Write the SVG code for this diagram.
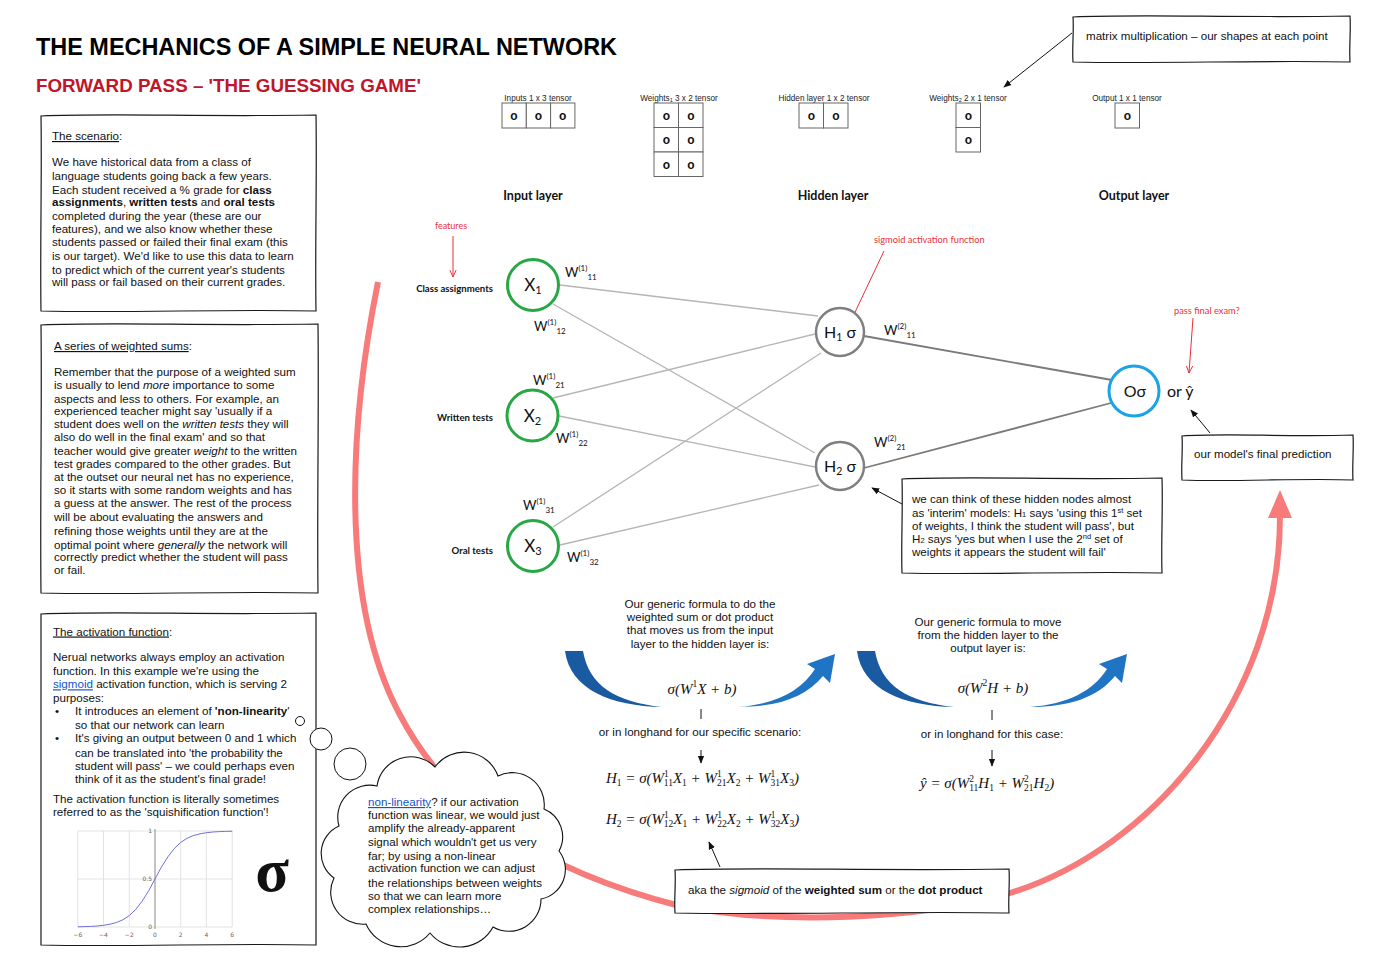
<svg xmlns="http://www.w3.org/2000/svg" width="1376" height="968" viewBox="0 0 1376 968">
<defs>
<style>
.t{font-family:"Liberation Sans",Arial,sans-serif;font-size:11.6px;fill:#111}
.b{font-weight:bold}
.i{font-style:italic}
.u{text-decoration:underline}
.lnk{fill:#1155cc;text-decoration:underline}
.box{fill:#fff;stroke:#1a1a1a;stroke-width:1.2}
.cal{font-family:Lato,"Liberation Sans",sans-serif;fill:#111}
.red{fill:#e8303a}
.math{font-family:"Liberation Serif","DejaVu Serif",serif;font-style:italic;font-size:15px;fill:#111}
.d{font-style:normal;font-size:9.5px}
.cell{fill:#fff;stroke:#666;stroke-width:1}
.o{font-family:"Liberation Sans",sans-serif;font-weight:bold;font-size:12px;text-anchor:middle;fill:#111}
.tl{font-family:"Liberation Sans",sans-serif;font-size:8.2px;text-anchor:middle;fill:#222}
.w1{stroke:#b5b5b5;stroke-width:1.3;fill:none}
.w2{stroke:#7a7a7a;stroke-width:1.8;fill:none}
.arr{stroke:#111;stroke-width:1;fill:none;marker-end:url(#ah)}
.rarr{stroke:#e8303a;stroke-width:1;fill:none;marker-end:url(#rh)}
.grid{stroke:#dcdcdc;stroke-width:0.8}
.ax{font-family:"DejaVu Sans",sans-serif;font-size:6px;fill:#666}
</style>
<marker id="ah" viewBox="0 0 10 10" refX="9" refY="5" markerWidth="8" markerHeight="8" orient="auto"><path d="M0,1 L10,5 L0,9 Z" fill="#111"/></marker>
<marker id="rh" viewBox="0 0 10 10" refX="9" refY="5" markerWidth="8" markerHeight="8" orient="auto"><path d="M0,1 L9,5 L0,9" fill="none" stroke="#e8303a" stroke-width="1.2"/></marker>
<g id="swoosh">
<path d="M565,651 C570,690 612,706 662,707 C616,702 589,686 583,651 Z" fill="#1a5aa0"/>
<path d="M738,707 C776,704 801,691 815,669 L807,664 L835,654 L830,683 L823,676 C806,697 778,707 738,707 Z" fill="#1f74c4"/>
</g>
</defs>
<rect width="1376" height="968" fill="#fff"/>

<!-- big red curve -->
<path d="M378,282 C350,420 338,600 400,715 C450,810 540,870 680,906 C780,925 920,920 1010,893 C1150,850 1280,700 1280,516" fill="none" stroke="#f77b7b" stroke-width="6"/>
<polygon points="1280,490 1268,518 1292,518" fill="#f77b7b"/>

<!-- titles -->
<text x="36" y="55" font-family="Liberation Sans,Arial,sans-serif" font-weight="bold" font-size="24" textLength="581" lengthAdjust="spacingAndGlyphs" fill="#000">THE MECHANICS OF A SIMPLE NEURAL NETWORK</text>
<text x="36" y="92" font-family="Liberation Sans,Arial,sans-serif" font-weight="bold" font-size="18.5" textLength="385" lengthAdjust="spacingAndGlyphs" fill="#c0152a">FORWARD PASS – 'THE GUESSING GAME'</text>

<!-- scenario box -->
<g id="scenario">
<path class="box" d="M41,116 C110,113 206,117 316,115 C317,174 315,252 316,311 C233,309 124,313 41,311 C40,252 42,174 41,116 Z"/>
<text class="t" x="52" y="140"><tspan class="u">The scenario</tspan>:</text>
<text class="t" x="52" y="165.7">We have historical data from a class of</text>
<text class="t" x="52" y="179.7">language students going back a few years.</text>
<text class="t" x="52" y="194">Each student received a % grade for <tspan class="b">class</tspan></text>
<text class="t" x="52" y="206.3"><tspan class="b">assignments</tspan>, <tspan class="b">written tests</tspan> and <tspan class="b">oral tests</tspan></text>
<text class="t" x="52" y="220">completed during the year (these are our</text>
<text class="t" x="52" y="233.3">features), and we also know whether these</text>
<text class="t" x="52" y="245.7">students passed or failed their final exam (this</text>
<text class="t" x="52" y="259.7">is our target). We'd like to use this data to learn</text>
<text class="t" x="52" y="273.7">to predict which of the current year's students</text>
<text class="t" x="52" y="286">will pass or fail based on their current grades.</text>
</g>

<!-- weighted sums box -->
<g id="weighted-sums">
<path class="box" d="M41,325 C110,322 207,326 318,324 C319,405 317,512 318,593 C235,591 124,595 41,593 C40,512 42,405 41,325 Z"/>
<text class="t" x="54" y="350"><tspan class="u">A series of weighted sums</tspan>:</text>
<text class="t" x="54" y="375.7">Remember that the purpose of a weighted sum</text>
<text class="t" x="54" y="389.3">is usually to lend <tspan class="i">more</tspan> importance to some</text>
<text class="t" x="54" y="403">aspects and less to others. For example, an</text>
<text class="t" x="54" y="415">experienced teacher might say 'usually if a</text>
<text class="t" x="54" y="428">student does well on the <tspan class="i">written tests</tspan> they will</text>
<text class="t" x="54" y="441.3">also do well in the final exam' and so that</text>
<text class="t" x="54" y="455">teacher would give greater <tspan class="i">weight</tspan> to the written</text>
<text class="t" x="54" y="468">test grades compared to the other grades. But</text>
<text class="t" x="54" y="480.7">at the outset our neural net has no experience,</text>
<text class="t" x="54" y="494">so it starts with some random weights and has</text>
<text class="t" x="54" y="507.3">a guess at the answer. The rest of the process</text>
<text class="t" x="54" y="521.3">will be about evaluating the answers and</text>
<text class="t" x="54" y="534.7">refining those weights until they are at the</text>
<text class="t" x="54" y="548.7">optimal point where <tspan class="i">generally</tspan> the network will</text>
<text class="t" x="54" y="561.3">correctly predict whether the student will pass</text>
<text class="t" x="54" y="574">or fail.</text>
</g>

<!-- activation box -->
<g id="activation">
<path class="box" d="M41,614 C110,611 206,615 316,613 C317,713 315,845 316,945 C233,943 124,947 41,945 C40,845 42,713 41,614 Z"/>
<text class="t" x="53" y="635.5"><tspan class="u">The activation function</tspan>:</text>
<text class="t" x="53" y="660.7">Nerual networks always employ an activation</text>
<text class="t" x="53" y="675">function. In this example we're using the</text>
<text class="t" x="53" y="688.3"><tspan class="lnk">sigmoid</tspan> activation function, which is serving 2</text>
<text class="t" x="53" y="701.7">purposes:</text>
<text class="t" x="55" y="715">•</text>
<text class="t" x="75" y="715">It introduces an element of <tspan class="b">'non-linearity</tspan>'</text>
<text class="t" x="75" y="729">so that our network can learn</text>
<text class="t" x="55" y="742.3">•</text>
<text class="t" x="75" y="742.3">It's giving an output between 0 and 1 which</text>
<text class="t" x="75" y="756.7">can be translated into 'the probability the</text>
<text class="t" x="75" y="769.7">student will pass' – we could perhaps even</text>
<text class="t" x="75" y="783">think of it as the student's final grade!</text>
<text class="t" x="53" y="803">The activation function is literally sometimes</text>
<text class="t" x="53" y="816.3">referred to as the 'squishification function'!</text>
<!-- sigmoid chart -->
<g>
<line class="grid" x1="77.8" y1="831" x2="77.8" y2="927"/>
<line class="grid" x1="103.5" y1="831" x2="103.5" y2="927"/>
<line class="grid" x1="129.3" y1="831" x2="129.3" y2="927"/>
<line class="grid" x1="180.7" y1="831" x2="180.7" y2="927"/>
<line class="grid" x1="206.4" y1="831" x2="206.4" y2="927"/>
<line class="grid" x1="232.2" y1="831" x2="232.2" y2="927"/>
<line class="grid" x1="77.8" y1="831" x2="232.2" y2="831"/>
<line class="grid" x1="77.8" y1="879" x2="232.2" y2="879"/>
<line class="grid" x1="77.8" y1="927" x2="232.2" y2="927"/>
<line x1="155" y1="829" x2="155" y2="929" stroke="#888" stroke-width="1"/>
<polyline points="77.8,926.8 84.2,926.6 90.7,926.4 97.1,926 103.6,925.3 110,924.2 116.4,922.5 122.9,919.8 129.3,915.6 135.7,909.5 142.1,901.2 148.6,890.9 155,879 161.4,867.1 167.9,856.8 174.3,848.5 180.7,842.4 187.2,838.2 193.6,835.5 200,833.8 206.4,832.7 212.9,832 219.3,831.6 225.7,831.4 232.2,831.2" fill="none" stroke="#7070dd" stroke-width="1"/>
<text class="ax" x="152" y="833" text-anchor="end">1</text>
<text class="ax" x="152" y="881" text-anchor="end">0.5</text>
<text class="ax" x="152" y="929" text-anchor="end">0</text>
<text class="ax" x="77.8" y="937" text-anchor="middle">−6</text>
<text class="ax" x="103.5" y="937" text-anchor="middle">−4</text>
<text class="ax" x="129.3" y="937" text-anchor="middle">−2</text>
<text class="ax" x="155" y="937" text-anchor="middle">0</text>
<text class="ax" x="180.7" y="937" text-anchor="middle">2</text>
<text class="ax" x="206.4" y="937" text-anchor="middle">4</text>
<text class="ax" x="232.2" y="937" text-anchor="middle">6</text>
</g>
<text x="272" y="891" font-family="Liberation Serif,serif" font-weight="bold" font-size="62" text-anchor="middle" fill="#111">σ</text>
</g>

<!-- thought bubble -->
<g id="thought">
<circle cx="300" cy="721" r="4.5" fill="#fff" stroke="#111" stroke-width="1"/>
<circle cx="321" cy="739" r="11" fill="#fff" stroke="#111" stroke-width="1"/>
<circle cx="350" cy="764" r="16" fill="#fff" stroke="#111" stroke-width="1"/>
<path d="M559,851 A30,30 0 0 1 541,899 A32,32 0 0 1 493,927 A38,38 0 0 1 430,933 A38,38 0 0 1 366,924 A32,32 0 0 1 334,878 A30,30 0 0 1 339,826 A32,32 0 0 1 377,786 A34,34 0 0 1 435,767 A36,36 0 0 1 498,776 A32,32 0 0 1 544,809 A30,30 0 0 1 559,851 Z" fill="#fff" stroke="#111" stroke-width="1.1"/>
<text class="t" x="368" y="806"><tspan class="lnk">non-linearity</tspan>? if our activation</text>
<text class="t" x="368" y="818.5">function was linear, we would just</text>
<text class="t" x="368" y="832">amplify the already-apparent</text>
<text class="t" x="368" y="846">signal which wouldn't get us very</text>
<text class="t" x="368" y="860">far; by using a non-linear</text>
<text class="t" x="368" y="872">activation function we can adjust</text>
<text class="t" x="368" y="886.5">the relationships between weights</text>
<text class="t" x="368" y="900">so that we can learn more</text>
<text class="t" x="368" y="912.5">complex relationships…</text>
</g>

<!-- tensors -->
<g id="tensors">
<text class="tl" x="538" y="100.5">Inputs 1 x 3 tensor</text>
<rect class="cell" x="502" y="103" width="24.3" height="25"/>
<rect class="cell" x="526.3" y="103" width="24.3" height="25"/>
<rect class="cell" x="550.6" y="103" width="24.3" height="25"/>
<text class="o" x="514" y="120">o</text><text class="o" x="538.4" y="120">o</text><text class="o" x="562.7" y="120">o</text>

<text class="tl" x="679" y="100.5">Weights<tspan font-size="5.5" dy="1.5">1</tspan><tspan dy="-1.5"> 3 x 2 tensor</tspan></text>
<rect class="cell" x="654" y="103" width="24.5" height="24.5"/>
<rect class="cell" x="678.5" y="103" width="24.5" height="24.5"/>
<rect class="cell" x="654" y="127.5" width="24.5" height="24.5"/>
<rect class="cell" x="678.5" y="127.5" width="24.5" height="24.5"/>
<rect class="cell" x="654" y="152" width="24.5" height="24.5"/>
<rect class="cell" x="678.5" y="152" width="24.5" height="24.5"/>
<text class="o" x="666.3" y="119.5">o</text><text class="o" x="690.8" y="119.5">o</text>
<text class="o" x="666.3" y="144">o</text><text class="o" x="690.8" y="144">o</text>
<text class="o" x="666.3" y="168.5">o</text><text class="o" x="690.8" y="168.5">o</text>

<text class="tl" x="824" y="100.5">Hidden layer 1 x 2 tensor</text>
<rect class="cell" x="799" y="103" width="24.5" height="25"/>
<rect class="cell" x="823.5" y="103" width="24.5" height="25"/>
<text class="o" x="811.3" y="120">o</text><text class="o" x="835.8" y="120">o</text>

<text class="tl" x="968" y="100.5">Weights<tspan font-size="5.5" dy="1.5">2</tspan><tspan dy="-1.5"> 2 x 1 tensor</tspan></text>
<rect class="cell" x="956" y="103" width="24.5" height="24.5"/>
<rect class="cell" x="956" y="127.5" width="24.5" height="24.5"/>
<text class="o" x="968.3" y="119.5">o</text><text class="o" x="968.3" y="144">o</text>

<text class="tl" x="1127" y="100.5">Output 1 x 1 tensor</text>
<rect class="cell" x="1115" y="103" width="24.5" height="25"/>
<text class="o" x="1127.3" y="120">o</text>
</g>

<!-- layer labels -->
<text class="cal" x="533" y="200" font-size="12.5" font-weight="bold" text-anchor="middle">Input layer</text>
<text class="cal" x="833" y="200" font-size="12.5" font-weight="bold" text-anchor="middle">Hidden layer</text>
<text class="cal" x="1134" y="200" font-size="12.5" font-weight="bold" text-anchor="middle">Output layer</text>

<!-- matrix note -->
<g id="matrix-note">
<path class="box" d="M1073,17 C1141,14 1237,18 1350,16 C1351,30 1349,48 1350,62 C1264,60 1155,64 1073,62 C1072,48 1074,30 1073,17 Z"/>
<text class="t" x="1086" y="40">matrix multiplication – our shapes at each point</text>
</g>

<!-- connectors -->
<g id="connectors">
<line class="w1" x1="560" y1="285" x2="818" y2="316"/>
<line class="w1" x1="553" y1="304" x2="815" y2="453"/>
<line class="w1" x1="553" y1="398" x2="815" y2="334"/>
<line class="w1" x1="559" y1="416" x2="815" y2="467"/>
<line class="w1" x1="553" y1="527" x2="821" y2="353"/>
<line class="w1" x1="560" y1="545" x2="819" y2="485"/>
<line class="w2" x1="864" y1="336" x2="1112" y2="380"/>
<line class="w2" x1="864" y1="468" x2="1111" y2="403"/>
<line class="rarr" x1="453" y1="236" x2="453" y2="277"/>
<line class="rarr" x1="884" y1="251" x2="848" y2="327"/>
<line class="rarr" x1="1193" y1="318" x2="1189" y2="373"/>
<line class="arr" x1="1072" y1="33" x2="1004" y2="87"/>
<line class="arr" x1="1210" y1="433" x2="1191" y2="410"/>
<line class="arr" x1="902" y1="504" x2="872" y2="488"/>
<line class="arr" x1="720" y1="867" x2="709" y2="842"/>
<line x1="701" y1="709" x2="701" y2="719" stroke="#111" stroke-width="1"/>
<line class="arr" x1="701" y1="750" x2="701" y2="763"/>
<line x1="992" y1="710" x2="992" y2="720" stroke="#111" stroke-width="1"/>
<line class="arr" x1="992" y1="750" x2="992" y2="766"/>
</g>

<!-- annotations -->
<text class="cal red" x="451" y="229" font-size="9" text-anchor="middle">features</text>
<text class="cal red" x="874" y="243" font-size="9.3">sigmoid activation function</text>
<text class="cal red" x="1174" y="314" font-size="9.3">pass final exam?</text>
<text class="cal" x="493" y="292" font-size="9.6" font-weight="bold" text-anchor="end">Class assignments</text>
<text class="cal" x="493" y="421" font-size="9.6" font-weight="bold" text-anchor="end">Written tests</text>
<text class="cal" x="493" y="554" font-size="9.6" font-weight="bold" text-anchor="end">Oral tests</text>

<!-- nodes -->
<g id="X1"><circle cx="533" cy="285" r="25.5" fill="#fff" stroke="#27a844" stroke-width="3"/>
<text class="cal" x="533" y="291" font-size="17" text-anchor="middle">X<tspan font-size="11" dy="3">1</tspan></text></g>
<g id="X2"><circle cx="532.5" cy="415.5" r="25.5" fill="#fff" stroke="#27a844" stroke-width="3"/>
<text class="cal" x="532.5" y="421.5" font-size="17" text-anchor="middle">X<tspan font-size="11" dy="3">2</tspan></text></g>
<g id="X3"><circle cx="533" cy="546" r="25.5" fill="#fff" stroke="#27a844" stroke-width="3"/>
<text class="cal" x="533" y="552" font-size="17" text-anchor="middle">X<tspan font-size="11" dy="3">3</tspan></text></g>
<g id="H1"><circle cx="840" cy="332" r="24" fill="#fff" stroke="#7f7f7f" stroke-width="2.5"/>
<text class="cal" x="840" y="338" font-size="16" text-anchor="middle">H<tspan font-size="10.5" dy="3">1</tspan><tspan dy="-3"> σ</tspan></text></g>
<g id="H2"><circle cx="840" cy="466" r="24" fill="#fff" stroke="#7f7f7f" stroke-width="2.5"/>
<text class="cal" x="840" y="472" font-size="16" text-anchor="middle">H<tspan font-size="10.5" dy="3">2</tspan><tspan dy="-3"> σ</tspan></text></g>
<g id="O"><circle cx="1134" cy="391" r="25" fill="#fff" stroke="#1aa3e8" stroke-width="3"/>
<text class="cal" x="1135" y="397" font-size="16" text-anchor="middle">Oσ</text></g>
<text class="cal" x="1167" y="397" font-size="16">or ŷ</text>

<!-- weight labels -->
<g font-family="Lato,Liberation Sans,sans-serif" fill="#111" font-size="13">
<text x="565" y="277">W<tspan font-size="8" dy="-6">(1)</tspan><tspan font-size="8" dy="9">11</tspan></text>
<text x="534" y="331">W<tspan font-size="8" dy="-6">(1)</tspan><tspan font-size="8" dy="9">12</tspan></text>
<text x="533" y="385">W<tspan font-size="8" dy="-6">(1)</tspan><tspan font-size="8" dy="9">21</tspan></text>
<text x="556" y="443">W<tspan font-size="8" dy="-6">(1)</tspan><tspan font-size="8" dy="9">22</tspan></text>
<text x="523" y="510">W<tspan font-size="8" dy="-6">(1)</tspan><tspan font-size="8" dy="9">31</tspan></text>
<text x="567" y="562">W<tspan font-size="8" dy="-6">(1)</tspan><tspan font-size="8" dy="9">32</tspan></text>
<text x="884" y="335">W<tspan font-size="8" dy="-6">(2)</tspan><tspan font-size="8" dy="9">11</tspan></text>
<text x="874" y="447">W<tspan font-size="8" dy="-6">(2)</tspan><tspan font-size="8" dy="9">21</tspan></text>
</g>

<!-- prediction box -->
<g id="prediction">
<path class="box" d="M1182,436 C1225,433 1285,437 1353,435 C1354,449 1352,466 1353,480 C1302,478 1233,482 1182,480 C1181,466 1183,449 1182,436 Z"/>
<text class="t" x="1194" y="458">our model's final prediction</text>
</g>

<!-- hidden note -->
<g id="hidden-note">
<path class="box" d="M902,479 C967,476 1058,480 1162,478 C1163,507 1161,545 1162,573 C1084,571 980,575 902,573 C901,545 903,507 902,479 Z"/>
<text class="t" x="912" y="503">we can think of these hidden nodes almost</text>
<text class="t" x="912" y="517">as 'interim' models: H<tspan font-size="7.5">1</tspan> says 'using this 1<tspan font-size="7.5" dy="-4">st</tspan><tspan dy="4"> set</tspan></text>
<text class="t" x="912" y="530">of weights, I think the student will pass', but</text>
<text class="t" x="912" y="543">H<tspan font-size="7.5">2</tspan> says 'yes but when I use the 2<tspan font-size="7.5" dy="-4">nd</tspan><tspan dy="4"> set of</tspan></text>
<text class="t" x="912" y="556">weights it appears the student will fail'</text>
</g>

<!-- formula left -->
<g id="formula-left">
<use href="#swoosh"/>
<text class="t" x="700" y="608" text-anchor="middle">Our generic formula to do the</text>
<text class="t" x="700" y="620.5" text-anchor="middle">weighted sum or dot product</text>
<text class="t" x="700" y="634" text-anchor="middle">that moves us from the input</text>
<text class="t" x="700" y="647.5" text-anchor="middle">layer to the hidden layer is:</text>
<text class="math" x="702" y="694" font-size="16" text-anchor="middle">σ(W<tspan class="d" font-size="10" dy="-7">1</tspan><tspan dy="7">X + b)</tspan></text>
<text class="t" x="700" y="736" text-anchor="middle">or in longhand for our specific scenario:</text>
<text class="math" x="606" y="783">H<tspan class="d" dy="3">1</tspan><tspan dy="-3"> = σ(W</tspan><tspan class="d" dy="-6">1</tspan><tspan class="d" dx="-4.75" dy="9">11</tspan><tspan dy="-3">X</tspan><tspan class="d" dy="3">1</tspan><tspan dy="-3"> + W</tspan><tspan class="d" dy="-6">1</tspan><tspan class="d" dx="-4.75" dy="9">21</tspan><tspan dy="-3">X</tspan><tspan class="d" dy="3">2</tspan><tspan dy="-3"> + W</tspan><tspan class="d" dy="-6">1</tspan><tspan class="d" dx="-4.75" dy="9">31</tspan><tspan dy="-3">X</tspan><tspan class="d" dy="3">3</tspan><tspan dy="-3">)</tspan></text>
<text class="math" x="606" y="824">H<tspan class="d" dy="3">2</tspan><tspan dy="-3"> = σ(W</tspan><tspan class="d" dy="-6">1</tspan><tspan class="d" dx="-4.75" dy="9">12</tspan><tspan dy="-3">X</tspan><tspan class="d" dy="3">1</tspan><tspan dy="-3"> + W</tspan><tspan class="d" dy="-6">1</tspan><tspan class="d" dx="-4.75" dy="9">22</tspan><tspan dy="-3">X</tspan><tspan class="d" dy="3">2</tspan><tspan dy="-3"> + W</tspan><tspan class="d" dy="-6">1</tspan><tspan class="d" dx="-4.75" dy="9">32</tspan><tspan dy="-3">X</tspan><tspan class="d" dy="3">3</tspan><tspan dy="-3">)</tspan></text>
</g>

<!-- formula right -->
<g id="formula-right">
<use href="#swoosh" transform="translate(292,0)"/>
<text class="t" x="988" y="626" text-anchor="middle">Our generic formula to move</text>
<text class="t" x="988" y="639" text-anchor="middle">from the hidden layer to the</text>
<text class="t" x="988" y="652" text-anchor="middle">output layer is:</text>
<text class="math" x="993" y="693" font-size="16" text-anchor="middle">σ(W<tspan class="d" font-size="10" dy="-7">2</tspan><tspan dy="7">H + b)</tspan></text>
<text class="t" x="992" y="738" text-anchor="middle">or in longhand for this case:</text>
<text class="math" x="920" y="788">ŷ = σ(W<tspan class="d" dy="-6">2</tspan><tspan class="d" dx="-4.75" dy="9">11</tspan><tspan dy="-3">H</tspan><tspan class="d" dy="3">1</tspan><tspan dy="-3"> + W</tspan><tspan class="d" dy="-6">2</tspan><tspan class="d" dx="-4.75" dy="9">21</tspan><tspan dy="-3">H</tspan><tspan class="d" dy="3">2</tspan><tspan dy="-3">)</tspan></text>
</g>

<!-- caption -->
<g id="caption">
<path class="box" d="M675,870 C758,867 875,871 1009,869 C1010,882 1008,900 1009,913 C909,911 775,915 675,913 C674,900 676,882 675,870 Z"/>
<text class="t" x="688" y="894">aka the <tspan class="i">sigmoid</tspan> of the <tspan class="b">weighted sum</tspan> or the <tspan class="b">dot product</tspan></text>
</g>
</svg>
